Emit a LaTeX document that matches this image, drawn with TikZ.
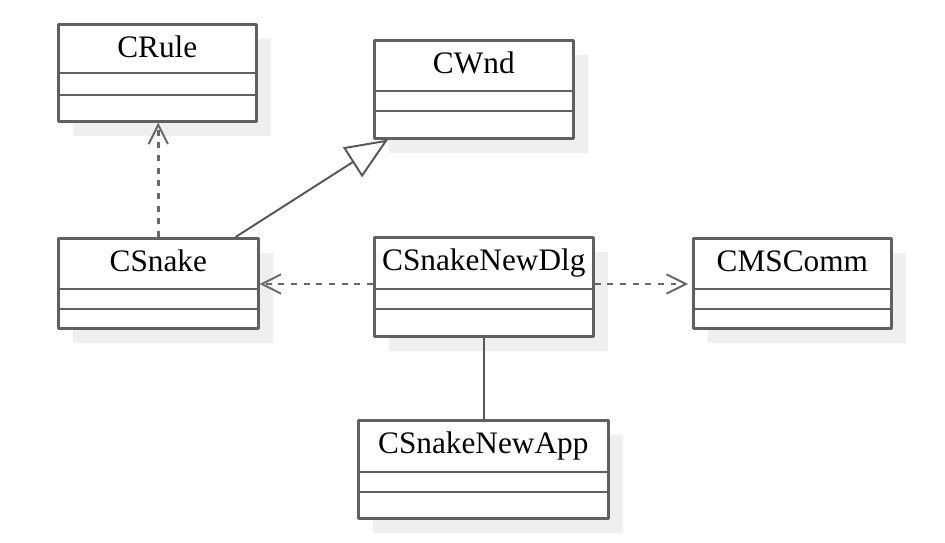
\documentclass[tikz,border=0pt]{standalone}
\usepackage{fontspec}
\setmainfont{Liberation Serif}
\usetikzlibrary{arrows.meta,shadows}

\definecolor{umlline}{RGB}{96,96,96}
\definecolor{umlshadow}{RGB}{239,239,239}

\tikzset{
  umlclass/.style={draw=umlline,line width=1.5pt,fill=white,inner sep=0pt,
    anchor=north west,text height=0.66cm,
    font=\fontsize{17.8}{20}\selectfont,
    drop shadow={shadow xshift=0.3cm,shadow yshift=-0.3cm,
                 fill=umlshadow,opacity=1}},
  divider/.style={draw=umlline,line width=1.5pt},
  depend/.style={draw=umlline!95,line width=1.6pt,
    dash pattern=on 3.4pt off 3.8pt,
    -{Straight Barb[length=11pt,width=11pt,line width=1.1pt]}},
  inherit/.style={draw=umlline!90!black,line width=1.1pt,
    -{Triangle[open,length=24pt,width=20pt,fill=white]}},
  assoc/.style={draw=umlline!90!black,line width=1.3pt}
}

\begin{document}
\begin{tikzpicture}[x=0.02cm,y=-0.02cm,line join=round]
\useasboundingbox (0,0) rectangle (945,543);

%% ---------------- classes ----------------
\node[umlclass,minimum width=3.96cm,text depth=1.28cm] (crule) at (57,23) {CRule};
\node[umlclass,minimum width=3.98cm,text depth=1.30cm] (cwnd) at (373,39) {CWnd};
\node[umlclass,minimum width=4.00cm,text depth=1.14cm] (csnake) at (57,237) {CSnake};
\node[umlclass,minimum width=4.38cm,text depth=1.32cm] (cdlg) at (373,236) {CSnakeNewDlg};
\node[umlclass,minimum width=3.96cm,text depth=1.14cm] (cmscomm) at (692,237) {CMSComm};
\node[umlclass,minimum width=5.00cm,text depth=1.30cm] (capp) at (357,419) {CSnakeNewApp};

%% compartments: attributes and operations
\draw[divider] (crule.west |- 0,73) -- (crule.east |- 0,73);
\draw[divider] (crule.west |- 0,95) -- (crule.east |- 0,95);
\draw[divider] (cwnd.west |- 0,91) -- (cwnd.east |- 0,91);
\draw[divider] (cwnd.west |- 0,111) -- (cwnd.east |- 0,111);
\draw[divider] (csnake.west |- 0,289) -- (csnake.east |- 0,289);
\draw[divider] (csnake.west |- 0,309) -- (csnake.east |- 0,309);
\draw[divider] (cdlg.west |- 0,289) -- (cdlg.east |- 0,289);
\draw[divider] (cdlg.west |- 0,309) -- (cdlg.east |- 0,309);
\draw[divider] (cmscomm.west |- 0,289) -- (cmscomm.east |- 0,289);
\draw[divider] (cmscomm.west |- 0,309) -- (cmscomm.east |- 0,309);
\draw[divider] (capp.west |- 0,472) -- (capp.east |- 0,472);
\draw[divider] (capp.west |- 0,492) -- (capp.east |- 0,492);

%% ---------------- relations ----------------
\draw[depend] (csnake.north) -- (csnake.north |- crule.south);
\draw[inherit] ([xshift=-0.48cm]csnake.north east) -- ([xshift=0.3cm]cwnd.south west);
\draw[depend] (cdlg.west |- 0,284) -- (csnake.east |- 0,284);
\draw[depend] (cdlg.east |- 0,284) -- ([xshift=-0.08cm]cmscomm.west |- 0,284);
\draw[assoc] (cdlg.south) -- (cdlg.south |- capp.north);

\end{tikzpicture}
\end{document}
